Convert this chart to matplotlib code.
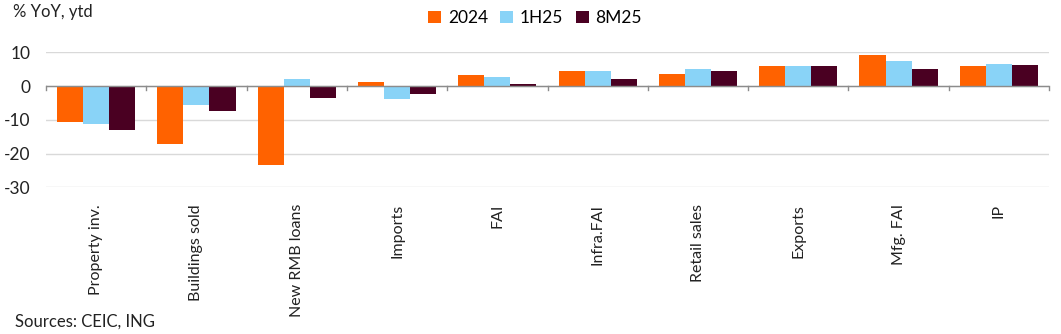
import matplotlib
matplotlib.use("Agg")
import matplotlib.pyplot as plt
import numpy as np

categories = ["Property inv.", "Buildings sold", "New RMB loans", "Imports", "FAI",
              "Infra.FAI", "Retail sales", "Exports", "Mfg. FAI", "IP"]
series_names = ["2024", "1H25", "8M25"]
v2024 = [-10.6, -17.1, -23.3, 1.1, 3.2, 4.4, 3.5, 5.9, 9.2, 5.8]
v1h25 = [-11.2, -5.5, 2.1, -3.8, 2.8, 4.6, 5.0, 5.9, 7.5, 6.4]
v8m25 = [-12.9, -7.3, -3.5, -2.3, 0.5, 2.0, 4.6, 5.9, 5.1, 6.2]
colors = ["#FF6200", "#89D3F7", "#4A0022"]
yticks = [-30, -20, -10, 0, 10]

plt.rcParams['font.family'] = ['Lato', 'DejaVu Sans']

fig = plt.figure(figsize=(10.61, 3.34), dpi=100)
ax = fig.add_axes([46/1061, 1-187.3/334, (1049-46)/1061, (187.3-52.3)/334])

x = np.arange(len(categories))
w = 0.26
for i, (vals, name, c) in enumerate(zip([v2024, v1h25, v8m25], series_names, colors)):
    ax.bar(x + (i-1)*w, vals, width=w, color=c, label=name, zorder=3)

ax.set_xlim(-0.5, len(categories)-0.5)
ax.set_ylim(-30, 10)
ax.set_yticks(yticks)
ax.set_yticklabels([str(t) for t in yticks], fontsize=12.5, color="#222222")
ax.yaxis.grid(True, color="#d9d9d9", linewidth=1, zorder=0)
ax.tick_params(axis='y', length=0, pad=11)
for s in ax.spines.values():
    s.set_visible(False)

# zero line with boundary ticks
ax.axhline(0, color="#8c8c8c", linewidth=1, zorder=4)
for b in np.arange(-0.5, len(categories), 1.0):
    ax.plot([b, b], [0, -1.1], color="#8c8c8c", linewidth=1, zorder=4, clip_on=False)

ax.set_xticks(x)
ax.set_xticklabels(categories, rotation=90, fontsize=11.5, color="#222222", va='top', ha='center')
ax.tick_params(axis='x', length=0, pad=12)

leg = fig.legend(loc='center', bbox_to_anchor=(535/1061, 1-18/334), ncol=3, frameon=False,
                 fontsize=12.5, handlelength=0.75, handleheight=0.75, handletextpad=0.4,
                 columnspacing=0.7)

fig.text(13/1061, 1-12/334, "% YoY, ytd", fontsize=12, color="#222222", va='center', ha='left')
fig.text(15/1061, 1-322/334, "Sources: CEIC, ING", fontsize=12, color="#222222", va='center', ha='left')

fig.savefig("out.png", dpi=100)
